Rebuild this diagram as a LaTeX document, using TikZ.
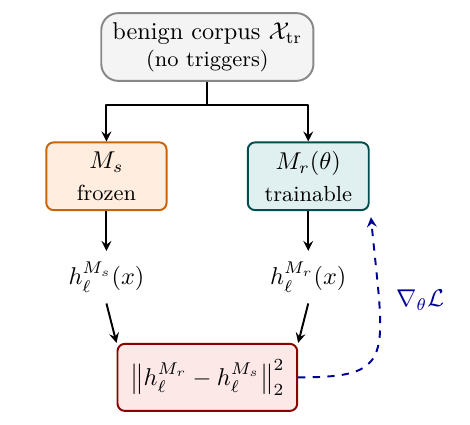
\documentclass[tikz,border=0pt]{standalone}
\usepackage{amsmath}
\definecolor{srcfill}{RGB}{244,244,244}
\definecolor{srcdraw}{RGB}{136,136,136}
\definecolor{frzfill}{RGB}{255,238,224}
\definecolor{frzdraw}{RGB}{200,100,10}
\definecolor{trnfill}{RGB}{224,240,240}
\definecolor{trndraw}{RGB}{0,77,77}
\definecolor{lossfill}{RGB}{253,232,232}
\definecolor{lossdraw}{RGB}{139,0,0}
\definecolor{gradblue}{RGB}{0,0,150}
\begin{document}
\begin{tikzpicture}[>=stealth, line join=round,
	box/.style={draw, thick, rounded corners=3pt, align=center, inner sep=2pt},
	feat/.style={inner sep=4.5pt}]
		\useasboundingbox (-3.0,0.68) rectangle (3.80,-5.455);
		% corpus and the two models
		\node[box, rounded corners=7pt, fill=srcfill, draw=srcdraw, minimum width=3.07cm, minimum height=0.98cm] (corpus) at (0,0)
			{benign corpus $\mathcal{X}_{\text{tr}}$\\[-1pt]{\small (no triggers)}};
		\node[box, fill=frzfill, draw=frzdraw, minimum width=1.74cm, minimum height=0.98cm] (Ms) at (-1.46,-1.87)
			{$M_s$\\[1pt]{\small frozen}};
		\node[box, fill=trnfill, draw=trndraw, minimum width=1.75cm, minimum height=0.98cm] (Mr) at (1.46,-1.87)
			{$M_r(\theta)$\\[1pt]{\small trainable}};
		% hidden states
		\node[feat] (hs) at (-1.46,-3.33) {$h_\ell^{M_s}(x)$};
		\node[feat] (hr) at (1.46,-3.33) {$h_\ell^{M_r}(x)$};
		% loss
		\node[box, fill=lossfill, draw=lossdraw, minimum width=2.60cm, minimum height=0.97cm] (loss) at (0,-4.78)
			{$\big\|h_\ell^{M_r}-h_\ell^{M_s}\big\|_2^2$};
		\node[text=gradblue] (grad) at (3.08,-3.66) {$\nabla_\theta\mathcal{L}$};
		\coordinate (split) at (0,-0.84);
		\draw[thick] (corpus.south)--(split);
		\draw[thick,->] (split)-|(Ms.north);
		\draw[thick,->] (split)-|(Mr.north);
		\draw[thick,->] (Ms.south)--(hs.north);
		\draw[thick,->] (Mr.south)--(hr.north);
		\draw[thick,->] (hs.south)--(loss.north west);
		\draw[thick,->] (hr.south)--(loss.north east);
		\draw[thick,dashed,gradblue,->] (loss.east) .. controls +(1.42,0) and +(0.20,-2.05) .. ([xshift=0.5pt,yshift=-2.5pt]Mr.south east);
\end{tikzpicture}
\end{document}
